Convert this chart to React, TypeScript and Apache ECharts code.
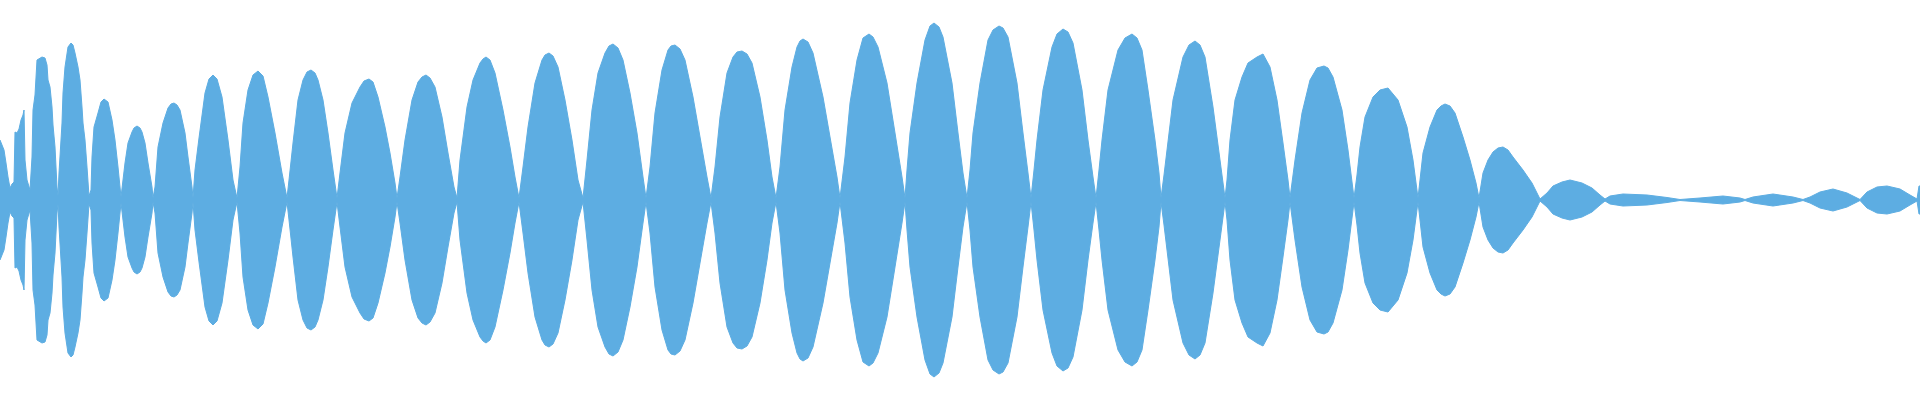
import React, { useEffect, useRef } from "react";
import * as echarts from "echarts";

// Waveform envelope: time position (sample units) and amplitude (0..200 scale)
const timeX: number[] = [
  0, 4, 6, 8, 10,
  12, 14, 15, 17, 19, 21, 23, 24, 25, 27, 30,
  32, 33, 35, 37, 42, 45, 47, 48, 50, 52, 53, 55, 57, 58,
  59, 62, 63, 65, 68, 71, 73, 75, 78, 80, 82, 83, 85, 87, 89,
  91, 92, 94, 98, 101, 104, 108, 112, 115, 118, 121,
  123, 125, 128, 132, 134, 137, 140, 142, 145, 148, 152, 153,
  155, 158, 163, 168, 171, 174, 177, 180, 185, 188, 192, 193,
  195, 199, 205, 209, 213, 217, 222, 228, 233, 237,
  240, 243, 248, 253, 258, 263, 268, 275, 282, 287,
  289, 293, 298, 303, 307, 311, 315, 318, 323, 328, 333, 337,
  340, 345, 352, 360, 364, 369, 373, 378, 385, 390, 395, 397,
  400, 405, 412, 418, 422, 426, 430, 435, 442, 448, 454, 457,
  460, 467, 473, 480, 483, 486, 490, 495, 503, 510, 515, 519,
  523, 528, 535, 542, 545, 549, 553, 558, 565, 572, 578, 583,
  587, 592, 598, 605, 609, 613, 618, 623, 630, 637, 643, 646,
  650, 655, 662, 668, 671, 675, 680, 685, 693, 700, 707, 711,
  715, 720, 727, 733, 737, 742, 747, 752, 760, 767, 772, 776,
  780, 785, 792, 797, 800, 803, 808, 813, 823, 830, 837, 840,
  845, 850, 857, 863, 869, 873, 878, 887, 895, 902, 905,
  907, 910, 917, 925, 930, 934, 939, 943, 952, 958, 963, 967,
  970, 973, 980, 988, 993, 999, 1003, 1008, 1017, 1023, 1028, 1031,
  1034, 1037, 1043, 1052, 1057, 1063, 1068, 1073, 1082, 1088, 1093, 1096,
  1099, 1102, 1108, 1118, 1125, 1132, 1137, 1142, 1148, 1155, 1159, 1161,
  1164, 1167, 1173, 1183, 1189, 1195, 1200, 1205, 1213, 1220, 1225,
  1227, 1230, 1235, 1242, 1248, 1257, 1263, 1270, 1277, 1283, 1288, 1290,
  1295, 1302, 1310, 1317, 1324, 1328, 1333, 1342, 1348, 1354,
  1357, 1360, 1365, 1373, 1380, 1388, 1398, 1407, 1413, 1418,
  1423, 1430, 1437, 1441, 1445, 1450, 1455, 1463, 1470, 1476, 1479,
  1483, 1488, 1493, 1498, 1503, 1508, 1513, 1523, 1532, 1540,
  1547, 1553, 1562, 1570, 1582, 1592, 1600, 1605,
  1610, 1623, 1647, 1667, 1680,
  1700, 1723, 1740, 1745,
  1753, 1773, 1793, 1803,
  1810, 1820, 1833, 1847, 1857, 1860,
  1867, 1877, 1887, 1900, 1910, 1917, 1919, 1920,
];

const amplitude: number[] = [
  60, 50, 37, 23, 12,
  16, 18, 68, 67, 71, 80, 85, 90, 40, 20, 10,
  43, 90, 105, 140, 143, 142, 135, 120, 113, 93, 75, 53, 13, 4,
  27, 77, 107, 133, 153, 157, 155, 147, 133, 120, 93, 77, 60, 33, 4,
  10, 43, 73, 87, 98, 101, 98, 80, 60, 33, 3,
  20, 37, 57, 68, 72, 74, 72, 68, 57, 37, 13, 2,
  13, 53, 77, 92, 96, 97, 95, 90, 67, 43, 13, 2,
  30, 62, 107, 121, 125, 121, 103, 60, 20, 2,
  33, 77, 110, 125, 129, 124, 103, 67, 27, 2,
  20, 57, 100, 120, 128, 130, 127, 120, 100, 67, 30, 2,
  27, 67, 97, 113, 119, 121, 118, 103, 73, 47, 17, 2,
  23, 60, 100, 118, 123, 125, 122, 113, 83, 47, 13, 2,
  40, 93, 120, 137, 141, 143, 140, 127, 90, 53, 23, 2,
  33, 73, 117, 140, 145, 147, 144, 133, 100, 60, 20, 2,
  40, 90, 127, 147, 154, 156, 152, 140, 107, 67, 23, 2,
  33, 87, 130, 150, 154, 155, 151, 140, 103, 63, 23, 2,
  33, 83, 127, 143, 148, 149, 146, 137, 103, 60, 23, 2,
  33, 90, 133, 153, 159, 161, 158, 147, 103, 63, 23, 2,
  43, 97, 140, 162, 166, 163, 153, 117, 67, 23, 2,
  30, 67, 117, 160, 174, 177, 173, 163, 117, 67, 27, 2,
  30, 67, 117, 160, 170, 174, 172, 163, 117, 67, 27, 2,
  30, 60, 110, 153, 166, 171, 168, 157, 110, 60, 23, 2,
  30, 60, 110, 150, 162, 166, 162, 150, 110, 60, 27, 2,
  25, 50, 100, 143, 155, 159, 155, 143, 93, 40, 2,
  20, 60, 100, 123, 137, 143, 146, 133, 100, 57, 20, 2,
  40, 87, 120, 132, 134, 132, 123, 90, 50, 2,
  25, 53, 83, 103, 110, 112, 100, 73, 40, 2,
  47, 73, 90, 94, 96, 94, 87, 63, 40, 17, 2,
  27, 40, 48, 52, 53, 50, 43, 30, 17, 1,
  7, 14, 18, 20, 17, 12, 5, 1,
  4, 6, 5, 2.5, 0.5,
  2, 4, 2, 0.5,
  3, 6, 3, 0.5,
  3, 8, 11, 7, 2, 0.5,
  8, 13, 14, 11, 5, 1, 14, 14,
];

const WAVE_COLOR = "#5dade2";

export default function App() {
  const ref = useRef<HTMLDivElement>(null);

  useEffect(() => {
    if (!ref.current) return;
    const chart = echarts.init(ref.current, undefined, { renderer: "svg" });
    const upper = timeX.map((x, i) => [x, amplitude[i]]);
    const lower = timeX.map((x, i) => [x, -amplitude[i]]);
    const seriesBase = {
      type: "line" as const,
      showSymbol: false,
      symbol: "none",
      smooth: false,
      lineStyle: { width: 1, color: WAVE_COLOR },
      areaStyle: { color: WAVE_COLOR, opacity: 1 },
      silent: true,
    };
    chart.setOption({
      animation: false,
      grid: { left: 0, right: 0, top: 0, bottom: 0 },
      xAxis: { type: "value", min: 0, max: 1920, show: false },
      yAxis: { type: "value", min: -200, max: 200, show: false },
      series: [
        { ...seriesBase, name: "upper", data: upper },
        { ...seriesBase, name: "lower", data: lower },
      ],
    });
    return () => chart.dispose();
  }, []);

  return (
    <div
      ref={ref}
      style={{ position: "absolute", left: 0, top: 0, width: 1920, height: 400 }}
    />
  );
}
